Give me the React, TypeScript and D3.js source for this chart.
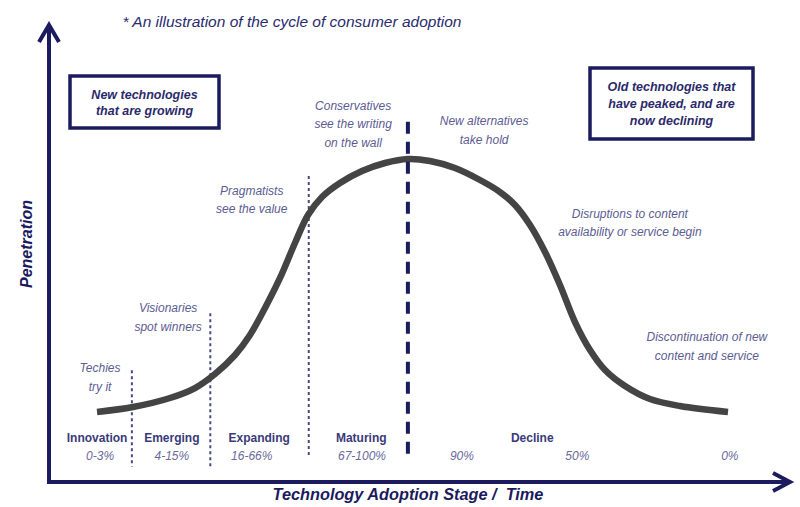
import React from "react";
import * as d3 from "d3";

// ---- data ----
const timePoints = [6.49, 11.35, 16.35, 19.73, 22.43, 25.14, 27.16, 29.19, 31.22, 33.24, 35.0, 36.89, 39.32, 42.3, 45.41, 48.51, 51.49, 54.86, 58.24, 60.95, 62.97, 65.0, 67.03, 69.05, 71.08, 73.11, 75.14, 77.84, 81.22, 85.27, 91.76];
const penetration = [15.22, 16.3, 18.26, 20.43, 23.48, 27.61, 31.96, 37.83, 44.35, 51.96, 58.04, 61.96, 65.0, 67.61, 69.35, 70.22, 69.78, 68.26, 65.65, 63.04, 60.22, 55.87, 50.0, 42.83, 34.78, 28.7, 24.35, 20.87, 18.04, 16.52, 15.22];

const stageNames = ["Innovation", "Emerging", "Expanding", "Maturing", "Decline"];
const stageLabelTime = [6.5, 16.6, 28.4, 42.2, 65.3];
const percentLabels = ["0-3%", "4-15%", "16-66%", "67-100%", "90%", "50%", "0%"];
const percentLabelTime = [6.9, 16.6, 27.4, 42.3, 55.8, 71.4, 92.0];

const boundaryTime = [11.2, 21.8, 35.1];
const boundaryTop = [24.3, 36.7, 66.5];
const boundaryBottom = [3.3, 3.3, 5.2];
const peakLineTime = 48.5;
const peakLineRange = [5.4, 78.3];

const annotations = [
  { lines: ["Conservatives", "see the writing", "on the wall"], t: 41.1, v: 80.9 },
  { lines: ["New alternatives", "take hold"], t: 58.8, v: 77.6 },
  { lines: ["Pragmatists", "see the value"], t: 27.4, v: 62.4 },
  { lines: ["Visionaries", "spot winners"], t: 16.1, v: 36.9 },
  { lines: ["Techies", "try it"], t: 6.9, v: 23.9 },
  { lines: ["Disruptions to content", "availability or service begin"], t: 78.5, v: 57.4 },
  { lines: ["Discontinuation of new", "content and service"], t: 88.9, v: 30.6 },
];

const W = 800, H = 507;
const x = d3.scaleLinear().domain([0, 100]).range([49, 789]);
const y = d3.scaleLinear().domain([0, 100]).range([482, 22]);

const NAVY = "#1b1b5e";
const ANNO = "#5c5c92";
const FONT = "'Liberation Sans', Arial, sans-serif";

export default function App() {
  const pts = timePoints.map((t, i) => [t, penetration[i]] as [number, number]);
  const line = d3
    .line<[number, number]>()
    .x((d) => x(d[0]))
    .y((d) => y(d[1]))
    .curve(d3.curveCatmullRom.alpha(0.5));

  const x0 = x(0), y0 = y(0);
  const xEnd = 792, yTop = 23;

  return (
    <svg width={W} height={H} style={{ position: "absolute", left: 0, top: 0, background: "#fff" }} fontFamily={FONT}>
      <rect width={W} height={H} fill="#fff" />
      {/* title */}
      <text x={292} y={27} textAnchor="middle" fontSize={15.5} fontStyle="italic" fill="#2b2b6e">
        * An illustration of the cycle of consumer adoption
      </text>

      {/* boxes */}
      <rect x={70} y={76} width={149} height={52} fill="none" stroke={NAVY} strokeWidth={3.5} />
      <text textAnchor="middle" fontSize={12.5} fontWeight="bold" fontStyle="italic" fill="#2a2a6a">
        <tspan x={144.5} y={99}>New technologies</tspan>
        <tspan x={144.5} y={115}>that are growing</tspan>
      </text>
      <rect x={590} y={68} width={163} height={71} fill="none" stroke={NAVY} strokeWidth={3.5} />
      <text textAnchor="middle" fontSize={12.5} fontWeight="bold" fontStyle="italic" fill="#2a2a6a">
        <tspan x={671.5} y={91}>Old technologies that</tspan>
        <tspan x={671.5} y={108}>have peaked, and are</tspan>
        <tspan x={671.5} y={125}>now declining</tspan>
      </text>

      {/* stage boundaries */}
      {boundaryTime.map((t, i) => (
        <line key={i} x1={x(t)} x2={x(t)} y1={y(boundaryTop[i])} y2={y(boundaryBottom[i])}
          stroke="#4a4a80" strokeWidth={2} strokeDasharray="3,3" />
      ))}

      {/* curve */}
      <path d={line(pts) || ""} fill="none" stroke="#444444" strokeWidth={6.5} strokeLinecap="butt" />

      {/* peak dashed line */}
      <line x1={x(peakLineTime)} x2={x(peakLineTime)} y1={y(peakLineRange[1])} y2={y(peakLineRange[0])}
        stroke={NAVY} strokeWidth={4} strokeDasharray="12,8" />

      {/* annotations */}
      {annotations.map((a, i) => (
        <text key={i} textAnchor="middle" fontSize={12} fontStyle="italic" fill={ANNO}>
          {a.lines.map((l, j) => (
            <tspan key={j} x={x(a.t)} y={y(a.v) + j * 18.5}>{l}</tspan>
          ))}
        </text>
      ))}

      {/* stage labels */}
      {stageNames.map((s, i) => (
        <text key={s} x={x(stageLabelTime[i])} y={442} textAnchor="middle" fontSize={12} fontWeight="bold" fill="#3a3a7a">
          {s}
        </text>
      ))}
      {percentLabels.map((p, i) => (
        <text key={p} x={x(percentLabelTime[i])} y={460} textAnchor="middle" fontSize={12} fontStyle="italic" fill="#6a6a9c">
          {p}
        </text>
      ))}

      {/* axes */}
      <line x1={x0} y1={y0} x2={x0} y2={yTop + 2} stroke={NAVY} strokeWidth={4} />
      <line x1={x0 - 2} y1={y0} x2={xEnd - 2} y2={y0} stroke={NAVY} strokeWidth={4} />
      <polyline points={`${x0 - 10},${yTop + 19} ${x0},${yTop + 2} ${x0 + 10},${yTop + 19}`} fill="none" stroke={NAVY} strokeWidth={4} strokeLinejoin="miter" />
      <polyline points={`${xEnd - 19},${y0 - 9} ${xEnd - 2},${y0} ${xEnd - 19},${y0 + 9}`} fill="none" stroke={NAVY} strokeWidth={4} strokeLinejoin="miter" />

      {/* axis titles */}
      <text x={408} y={500} textAnchor="middle" fontSize={16.3} fontWeight="bold" fontStyle="italic" fill={NAVY} style={{ whiteSpace: "pre" }}>
        {"Technology Adoption Stage /  Time"}
      </text>
      <text transform="translate(32,244) rotate(-90)" textAnchor="middle" fontSize={16} fontWeight="bold" fontStyle="italic" fill={NAVY}>
        Penetration
      </text>
    </svg>
  );
}
